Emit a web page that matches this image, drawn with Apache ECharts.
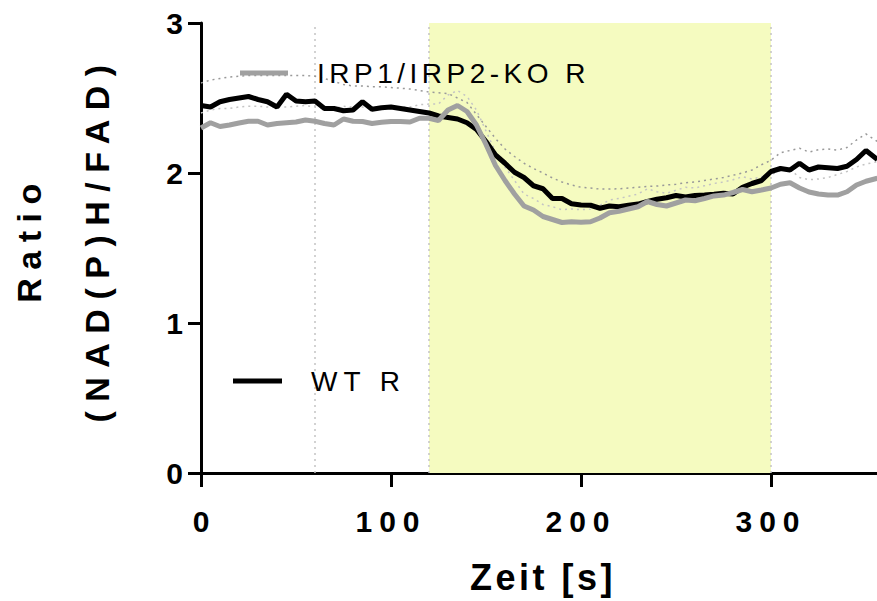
<!DOCTYPE html>
<html><head><meta charset="utf-8">
<script src="https://cdn.jsdelivr.net/npm/echarts@6/dist/echarts.min.js"></script>
<style>html,body{margin:0;padding:0;background:#fff}#c{width:877px;height:601px}</style>
</head><body><div id="c"></div>
<script>
// time points [s]
const times = [0,5,10,15,20,25,30,35,40,45,50,55,60,65,70,75,80,85,90,95,
  100,105,110,115,120,125,130,135,140,145,150,155,160,165,170,175,180,185,190,195,
  200,205,210,215,220,225,230,235,240,245,250,255,260,265,270,275,280,285,290,295,
  300,305,310,315,320,325,330,335,340,345,350,356];
// WT R mean
const wtR = [2.45,2.44,2.475,2.49,2.50,2.51,2.49,2.475,2.44,2.525,
  2.48,2.475,2.48,2.43,2.43,2.415,2.42,2.475,2.425,2.435,
  2.44,2.43,2.42,2.41,2.40,2.38,2.37,2.36,2.335,2.29,
  2.21,2.12,2.065,2.005,1.97,1.915,1.895,1.83,1.83,1.795,
  1.787,1.785,1.765,1.78,1.775,1.785,1.793,1.81,1.825,1.835,
  1.85,1.84,1.85,1.853,1.858,1.865,1.86,1.905,1.93,1.95,
  2.01,2.03,2.02,2.065,2.02,2.04,2.035,2.03,2.045,2.09,2.15,2.09];
// IRP1/IRP2-KO R mean
const koR = [2.30,2.335,2.31,2.32,2.333,2.345,2.345,2.32,2.33,2.335,
  2.34,2.353,2.345,2.33,2.32,2.36,2.345,2.343,2.33,2.338,
  2.343,2.343,2.34,2.365,2.365,2.35,2.42,2.45,2.41,2.32,
  2.19,2.05,1.95,1.86,1.78,1.753,1.71,1.69,1.67,1.675,
  1.672,1.675,1.70,1.735,1.745,1.76,1.775,1.81,1.79,1.78,
  1.80,1.82,1.815,1.83,1.847,1.853,1.87,1.89,1.875,1.887,
  1.90,1.925,1.935,1.90,1.873,1.86,1.853,1.853,1.875,1.92,1.945,1.965];
// WT R upper error bound (dotted)
const wtUpper = [2.60,2.62,2.63,2.64,2.645,2.65,2.65,2.65,2.65,2.65,
  2.65,2.65,2.645,2.63,2.61,2.59,2.58,2.58,2.575,2.575,
  2.57,2.565,2.56,2.55,2.54,2.535,2.53,2.50,2.47,2.39,
  2.31,2.23,2.16,2.11,2.065,2.03,2.00,1.967,1.94,1.92,
  1.905,1.90,1.893,1.893,1.895,1.90,1.905,1.91,1.913,1.92,
  1.925,1.935,1.94,1.95,1.96,1.97,1.985,2.0,2.02,2.055,
  2.085,2.135,2.15,2.165,2.14,2.155,2.16,2.153,2.17,2.22,2.26,2.21];
// IRP1/IRP2-KO R upper error bound (dotted)
const koUpper = [2.40,2.42,2.43,2.43,2.44,2.445,2.445,2.44,2.44,2.44,
  2.445,2.45,2.44,2.43,2.43,2.445,2.44,2.44,2.43,2.435,
  2.44,2.44,2.44,2.455,2.46,2.46,2.52,2.55,2.51,2.42,
  2.28,2.14,2.04,1.95,1.86,1.83,1.79,1.775,1.755,1.76,
  1.755,1.76,1.785,1.82,1.83,1.845,1.86,1.895,1.875,1.865,
  1.885,1.905,1.90,1.915,1.93,1.94,1.955,1.975,1.96,1.975,
  1.99,2.015,2.025,1.97,1.955,1.96,1.97,1.99,2.01,2.04,2.06,2.075];
const seriesNames = ['WT R', 'IRP1/IRP2-KO R'];
const stimWindow = [120, 300];
const markerTimes = [60, 120, 300];
const xTitle = 'Zeit [s]';
const yTitle = 'Ratio\n(NAD(P)H/FAD)';

const FONT = "'Liberation Sans', Arial, sans-serif";
const pairs = arr => times.map((t, i) => [t, arr[i]]);
const chart = echarts.init(document.getElementById('c'), null, {renderer: 'svg', width: 877, height: 601});

const legendText = {fontFamily: FONT, fontSize: 28, color: '#000', padding: [0, 0, 0, 24]};
const option = {
  animation: false,
  backgroundColor: '#fff',
  grid: {left: 201, top: 23, right: -8, bottom: 128, outerBoundsMode: 'none', containLabel: false},
  xAxis: {
    type: 'value', min: 0, max: 360, interval: 100,
    name: xTitle, nameLocation: 'middle', nameGap: 86,
    nameTextStyle: {fontFamily: FONT, fontWeight: 'bold', fontSize: 36, color: '#000'},
    axisLine: {show: true, lineStyle: {color: '#000', width: 3}},
    axisTick: {show: true, length: 14, lineStyle: {color: '#000', width: 3}},
    axisLabel: {margin: 33, fontFamily: FONT, fontWeight: 'bold', fontSize: 30, color: '#000', showMaxLabel: false},
    splitLine: {show: false}
  },
  yAxis: {
    type: 'value', min: 0, max: 3, interval: 1,
    name: yTitle, nameLocation: 'middle', nameRotate: 90, nameGap: 70,
    nameTextStyle: {fontFamily: FONT, fontWeight: 'bold', fontSize: 34, color: '#000', lineHeight: 68, padding: [0, 0, 0, 18]},
    axisLine: {show: true, lineStyle: {color: '#000', width: 3}},
    axisTick: {show: true, length: 13, lineStyle: {color: '#000', width: 3}},
    axisLabel: {margin: 18, fontFamily: FONT, fontWeight: 'bold', fontSize: 30, color: '#000'},
    splitLine: {show: false}
  },
  legend: [
    {data: [seriesNames[1]], left: 240, top: 59, padding: 0, icon: 'rect', itemWidth: 48, itemHeight: 5, textStyle: legendText, selectedMode: false},
    {data: [seriesNames[0]], left: 233, top: 367, padding: 0, icon: 'rect', itemWidth: 49, itemHeight: 5, textStyle: legendText, selectedMode: false}
  ],
  series: [
    {
      name: 'WT R upper', type: 'line', data: pairs(wtUpper), symbol: 'none', silent: true,
      color: '#999', lineStyle: {color: '#999', width: 1.5, type: [2, 4]},
      markArea: {silent: true, z: 1, itemStyle: {color: '#f5fbc0'},
        data: [[{xAxis: stimWindow[0]}, {xAxis: stimWindow[1]}]]},
      markLine: {silent: true, z: 1.5, symbol: ['none', 'none'], label: {show: false},
        lineStyle: {color: '#c4c4c4', width: 1.5, type: [2, 4]},
        data: markerTimes.map(t => ({xAxis: t}))}
    },
    {
      name: 'IRP1/IRP2-KO R upper', type: 'line', data: pairs(koUpper), symbol: 'none', silent: true,
      color: '#c4c4c4', lineStyle: {color: '#c4c4c4', width: 1.5, type: [2, 4]}
    },
    {
      name: seriesNames[0], type: 'line', data: pairs(wtR), symbol: 'none',
      color: '#000', lineStyle: {color: '#000', width: 5}
    },
    {
      name: seriesNames[1], type: 'line', data: pairs(koR), symbol: 'none',
      color: '#a0a0a0', lineStyle: {color: '#a0a0a0', width: 5}
    }
  ]
};
chart.setOption(option);

const spacing = {'IRP1/IRP2-KO R': 4.5, 'WT R': 6, 'Zeit [s]': 3.5, 'Ratio': 8.5, '(NAD(P)H/FAD)': 9.5, '100': 7, '200': 7, '300': 7};
function applySpacing() {
  document.querySelectorAll('#c svg text').forEach(el => {
    const s = spacing[el.textContent];
    if (s) el.setAttribute('letter-spacing', s);
  });
}
applySpacing();
chart.on('finished', applySpacing);
setTimeout(applySpacing, 50);
</script></body></html>
